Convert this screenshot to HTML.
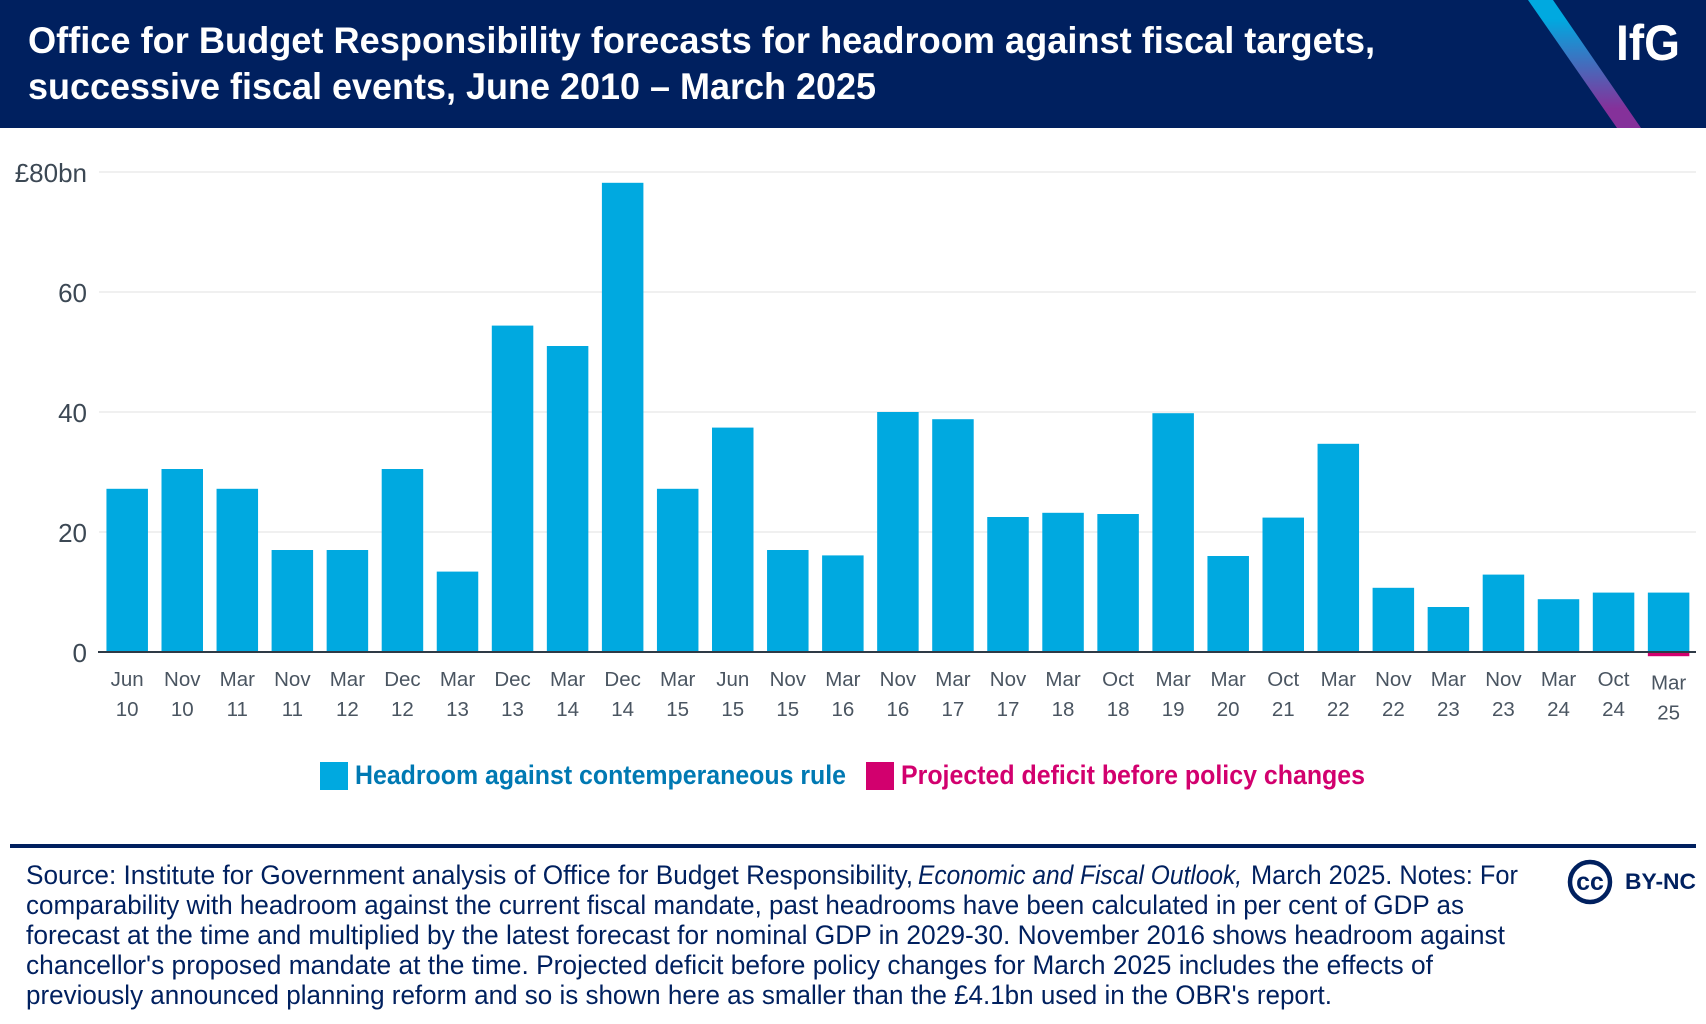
<!DOCTYPE html>
<html lang="en">
<head>
<meta charset="utf-8">
<title>Office for Budget Responsibility forecasts for headroom</title>
<style>
html,body{margin:0;padding:0;background:#fff;}
svg{display:block;font-family:"Liberation Sans",sans-serif;}
</style>
</head>
<body>
<svg id="chart" width="1706" height="1024" viewBox="0 0 1706 1024" xmlns="http://www.w3.org/2000/svg">
  <defs>
    <linearGradient id="stripe" x1="0" y1="0" x2="0" y2="128" gradientUnits="userSpaceOnUse">
      <stop offset="0.15" stop-color="#00a9e0"/>
      <stop offset="0.85" stop-color="#85319a"/>
    </linearGradient>
  </defs>
  <rect x="0" y="0" width="1706" height="128" fill="#00205f"/>
  <polygon points="1528,0 1553,0 1641,128 1617,128" fill="url(#stripe)"/>
  <text x="28" y="53" font-size="37.5" font-weight="700" fill="#fff" textLength="1347" lengthAdjust="spacingAndGlyphs">Office for Budget Responsibility forecasts for headroom against fiscal targets,</text>
  <text x="28" y="99" font-size="37.5" font-weight="700" fill="#fff" textLength="848" lengthAdjust="spacingAndGlyphs">successive fiscal events, June 2010 – March 2025</text>
  <text x="1616" y="60" font-size="50" font-weight="700" fill="#fff" textLength="64" lengthAdjust="spacingAndGlyphs">IfG</text>

  <g id="grid"></g>
  <g id="yticks"></g>
  <g id="bars"></g>
  <g id="xticks"></g>
  <rect x="98" y="651" width="1598" height="2" fill="#2e3a46"/>

  <rect x="320" y="762" width="28" height="28" fill="#00a9e0"/>
  <text x="355" y="784" font-size="27" font-weight="700" fill="#0079b3" textLength="491" lengthAdjust="spacingAndGlyphs">Headroom against contemperaneous rule</text>
  <rect x="866" y="762" width="28" height="28" fill="#d2006e"/>
  <text x="901" y="784" font-size="27" font-weight="700" fill="#d2006e" textLength="464" lengthAdjust="spacingAndGlyphs">Projected deficit before policy changes</text>

  <rect x="10" y="844" width="1686" height="4" fill="#00205f"/>
  <g font-size="26.5" fill="#00205f">
    <text x="26" y="884" textLength="887" lengthAdjust="spacingAndGlyphs">Source: Institute for Government analysis of Office for Budget Responsibility,</text>
    <text x="918" y="884" font-style="italic" textLength="324" lengthAdjust="spacingAndGlyphs">Economic and Fiscal Outlook,</text>
    <text x="1251" y="884" textLength="267" lengthAdjust="spacingAndGlyphs">March 2025. Notes: For</text>
    <text x="26" y="914" textLength="1438" lengthAdjust="spacingAndGlyphs">comparability with headroom against the current fiscal mandate, past headrooms have been calculated in per cent of GDP as</text>
    <text x="26" y="944" textLength="1479" lengthAdjust="spacingAndGlyphs">forecast at the time and multiplied by the latest forecast for nominal GDP in 2029-30. November 2016 shows headroom against</text>
    <text x="26" y="974" textLength="1407" lengthAdjust="spacingAndGlyphs">chancellor's proposed mandate at the time. Projected deficit before policy changes for March 2025 includes the effects of</text>
    <text x="26" y="1004" textLength="1306" lengthAdjust="spacingAndGlyphs">previously announced planning reform and so is shown here as smaller than the £4.1bn used in the OBR's report.</text>
  </g>
  <g>
    <circle cx="1590" cy="882" r="20" fill="none" stroke="#00205f" stroke-width="4.5"/>
    <text x="1590" y="890" font-size="25" font-weight="700" fill="#00205f" text-anchor="middle">cc</text>
    <text x="1625" y="889" font-size="22" font-weight="700" fill="#00205f" textLength="71" lengthAdjust="spacingAndGlyphs">BY-NC</text>
  </g>
</svg>
<script>
const months = ["Jun","Nov","Mar","Nov","Mar","Dec","Mar","Dec","Mar","Dec","Mar","Jun","Nov","Mar","Nov","Mar","Nov","Mar","Oct","Mar","Mar","Oct","Mar","Nov","Mar","Nov","Mar","Oct","Mar"];
const years = ["10","10","11","11","12","12","13","13","14","14","15","15","15","16","16","17","17","18","18","19","20","21","22","22","23","23","24","24","25"];
const headroom = [27.2,30.5,27.2,17,17,30.5,13.4,54.4,51,78.2,27.2,37.4,17,16.1,40,38.8,22.5,23.2,23,39.8,16,22.4,34.7,10.7,7.5,12.9,8.8,9.9,9.9];
const deficit = [0,0,0,0,0,0,0,0,0,0,0,0,0,0,0,0,0,0,0,0,0,0,0,0,0,0,0,0,-0.7];
const tickValues = [0,20,40,60,80];
const tickLabels = ["0","20","40","60","£80bn"];

const NS = "http://www.w3.org/2000/svg";
const yScale = v => 652 - v * 6;
const xCenter = i => 127.2 + i * 55.05;
const barWidth = 41.5;

function make(tag, parent, attrs, text) {
  const el = document.createElementNS(NS, tag);
  for (const k in attrs) el.setAttribute(k, attrs[k]);
  if (text !== undefined) el.textContent = text;
  parent.appendChild(el);
  return el;
}

const gridG = document.getElementById("grid");
const yG = document.getElementById("yticks");
tickValues.forEach((v, i) => {
  if (v !== 0) {
    const line = make("rect", gridG, {x: 99, y: yScale(v) - 1, width: 1597, height: 2, fill: "#f0f0f0"});
    
    
  }
  const label = make("text", yG, {x: 87, y: yScale(v) + 10, "font-size": 26, fill: "#3c4854", "text-anchor": "end"}, tickLabels[i]);
  
  
});

const barsG = document.getElementById("bars");
headroom.forEach((v, i) => {
  const bar = make("rect", barsG, {x: xCenter(i) - barWidth / 2, y: yScale(v), width: barWidth, height: yScale(0) - yScale(v), fill: "#00a9e0"});
  
  
});
deficit.forEach((v, i) => {
  if (v === 0) return;
  const neg = make("rect", barsG, {x: xCenter(i) - barWidth / 2, y: yScale(0), width: barWidth, height: yScale(v) - yScale(0), fill: "#d2006e"});
  
  
});

const xG = document.getElementById("xticks");
months.forEach((m, i) => {
  const shift = i === months.length - 1 ? 3.5 : 0;
  const monthLabel = make("text", xG, {x: xCenter(i), y: 686 + shift, "font-size": 20.5, fill: "#4a5561", "text-anchor": "middle"}, m);
  
  
  const yearLabel = make("text", xG, {x: xCenter(i), y: 716 + shift, "font-size": 20.5, fill: "#4a5561", "text-anchor": "middle"}, years[i]);
  
  
});
</script>
</body>
</html>
